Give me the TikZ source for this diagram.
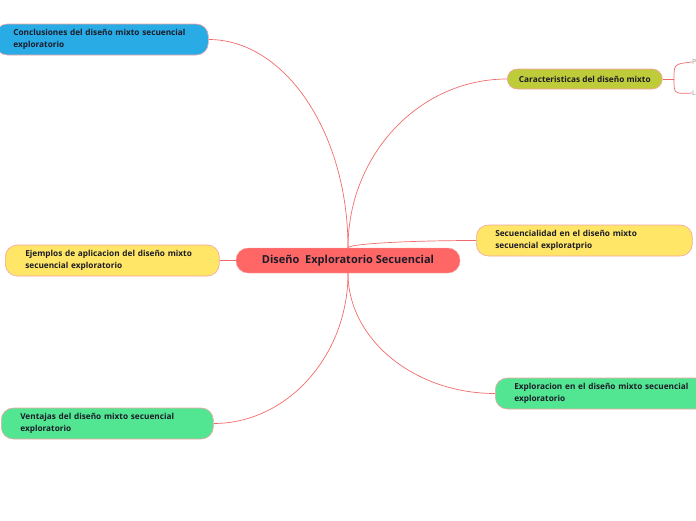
\documentclass[tikz,border=0pt]{standalone}
\usepackage{fontspec}
\setmainfont{Open Sans}
\usetikzlibrary{backgrounds}
\definecolor{linkred}{HTML}{F26B6B}
\definecolor{edgepink}{HTML}{F4A3A3}
\definecolor{mainred}{HTML}{FF6666}
\definecolor{topicblue}{HTML}{29ABE6}
\definecolor{topicolive}{HTML}{BFCC3A}
\definecolor{topicyellow}{HTML}{FFE666}
\definecolor{topicgreen}{HTML}{52E693}
\definecolor{inkdark}{HTML}{1C1C28}

\begin{document}
\begin{tikzpicture}[x=1pt, y=-1pt, font=\bfseries\fontsize{8.25}{12.5}\selectfont,
  topic/.style={draw=edgepink, line width=0.6pt, rounded corners=12pt, minimum height=31pt,
    align=left, anchor=west, inner xsep=19pt, text=inkdark},
  link/.style={draw=linkred, line width=0.7pt},
  subtopic/.style={anchor=west, inner sep=0pt, text=gray!80, font=\fontsize{7}{8}\selectfont}]
  \useasboundingbox (0,0) rectangle (696,520);

  % central topic
  \node[draw=edgepink, fill=mainred, rounded corners=12pt, minimum width=224pt, minimum height=25pt,
    text=inkdark, font=\bfseries\fontsize{11}{12}\selectfont] (main) at (348,260.5)
    {Diseño\ \ Exploratorio Secuencial};

  % left side
  \node[topic, fill=topicblue, inner xsep=18pt, text width=177pt] (conc) at (-5,39.5)
    {Conclusiones del diseño mixto secuencial\\exploratorio};
  \node[topic, fill=topicyellow, inner xsep=20pt, text width=174pt] (ejem) at (5,260.5)
    {Ejemplos de aplicacion del diseño mixto\\secuencial exploratorio};
  \node[topic, fill=topicgreen, text width=174pt] (vent) at (1,423.5)
    {Ventajas del diseño mixto secuencial\\exploratorio};

  % right side
  \node[topic, fill=topicolive, minimum height=20pt, rounded corners=10pt, inner xsep=4pt,
    minimum width=155pt, align=center] (carac) at (507,79)
    {Caracteristicas del diseño mixto};
  \node[topic, fill=topicyellow, text width=178pt] (sec) at (476,240.5)
    {Secuencialidad en el diseño mixto\\secuencial exploratprio};
  \node[topic, fill=topicgreen, text width=182pt] (expl) at (495,393.5)
    {Exploracion en el diseño mixto secuencial\\exploratorio};

  % sub-topics of Caracteristicas (cut by the page edge)
  \node[subtopic] (pnode) at (692,62) {P};
  \node[subtopic] (lnode) at (692,93) {L};
  \coordinate (fork) at (674,79);

  \begin{scope}[on background layer]
    \draw[link] (main.north) .. controls (348,133) and (285,39.5) .. (conc.east);
    \draw[link] (main.north) .. controls (348,155) and (419,79) .. (carac.west);
    \draw[link] (main.north) .. controls (348,244) and (406,240.5) .. (sec.west);
    \draw[link] (main.south) .. controls (348,339) and (414,393.5) .. (expl.west);
    \draw[link] (main.south) .. controls (348,356) and (287,423.5) .. (vent.east);
    \draw[link] (main.west) -- (ejem.east);
    \draw[link] (carac.east) -- (fork);
    \draw[link] (fork) .. controls (674,64) .. (pnode.west);
    \draw[link] (fork) .. controls (674,94) .. (lnode.west);
  \end{scope}
\end{tikzpicture}
\end{document}
